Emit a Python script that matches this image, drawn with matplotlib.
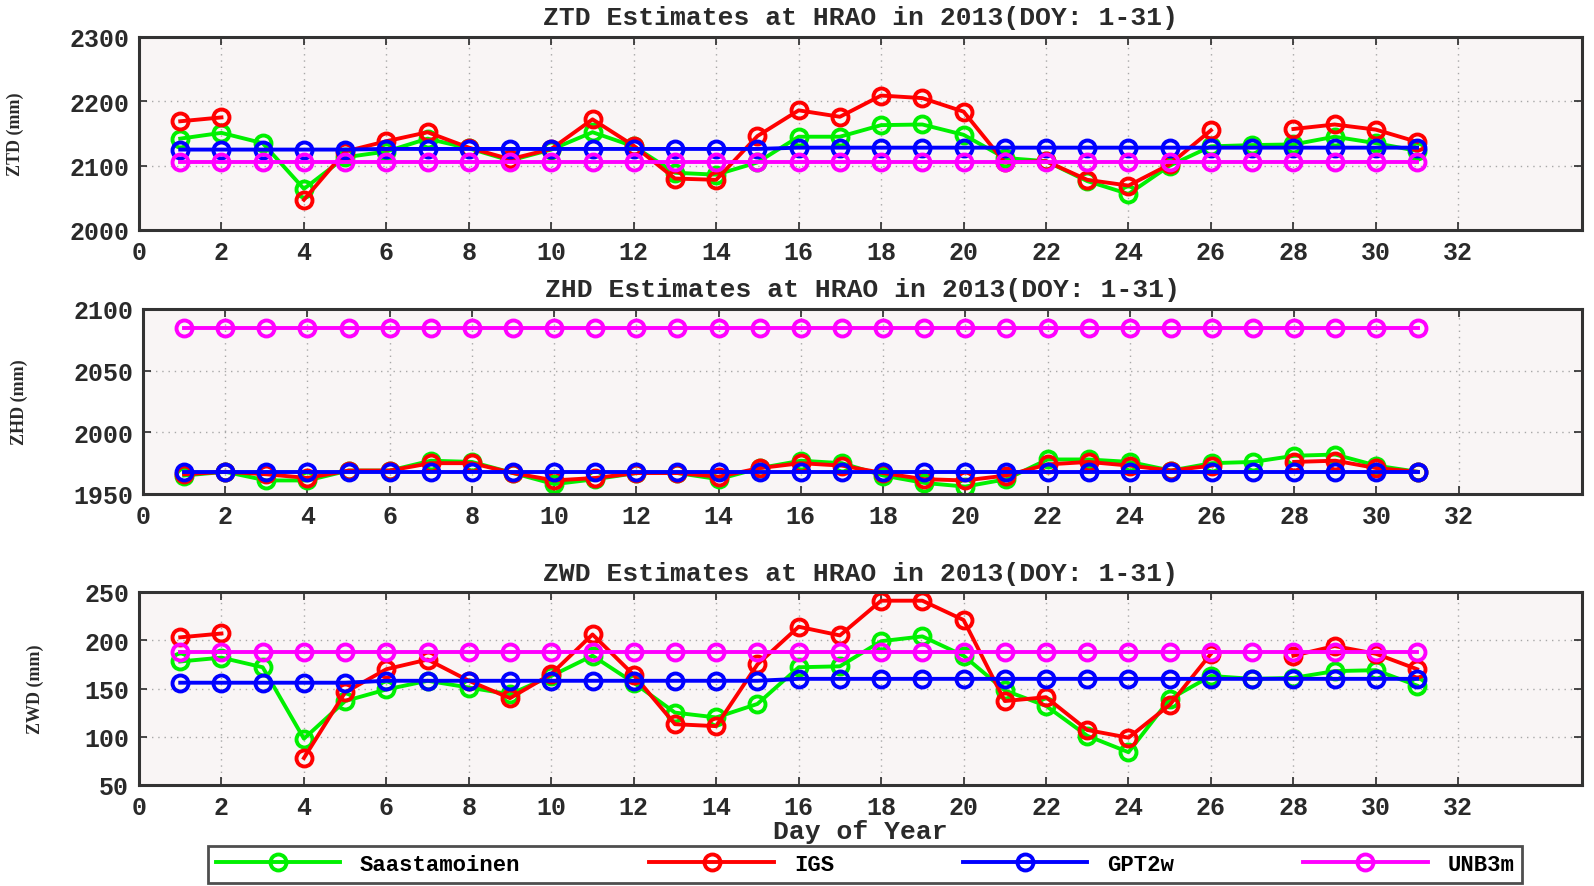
import numpy as np
import matplotlib
matplotlib.use("Agg")
import matplotlib.pyplot as plt

nan = np.nan
days = list(range(1, 32))

# ZTD (mm)
ztd_saas = [2142, 2151, 2135, 2064, 2113, 2122, 2142, 2127, 2108, 2125, 2152, 2130, 2089, 2086, 2105,
            2145, 2145, 2163, 2164, 2148, 2112, 2107, 2076, 2056, 2100, 2130, 2132, 2133, 2145, 2135, 2123]
ztd_igs = [2169, 2175, nan, 2047, 2122, 2138, 2152, 2128, 2110, 2126, 2172, 2131, 2080, 2078, 2146,
           2186, 2176, 2209, 2205, 2184, 2105, 2107, 2078, 2069, 2102, 2155, nan, 2157, 2164, 2156, 2137]
ztd_gpt = [2125] * 5 + [2126] * 10 + [2128] * 16
ztd_unb = [2106] * 31

# ZHD (mm)
zhd_saas = [1965, 1968, 1961, 1961, 1969, 1969, 1977, 1976, 1967, 1958, 1962, 1967, 1967, 1962, 1971,
            1977, 1975, 1965, 1959, 1956, 1962, 1978, 1978, 1976, 1969, 1975, 1976, 1981, 1982, 1973, 1968]
zhd_igs = [1966, 1968, 1966, 1963, 1969, 1969, 1975, 1975, 1967, 1961, 1963, 1967, 1967, 1964, 1971,
           1975, 1973, 1967, 1962, 1961, 1965, 1974, 1976, 1973, 1969, 1973, nan, 1976, 1977, 1971, 1968]
zhd_gpt = [1968] * 31
zhd_unb = [2085] * 31

# ZWD (mm)
zwd_saas = [178, 182, 172, 98, 137, 149, 158, 151, 144, 163, 184, 156, 125, 120, 134,
            172, 173, 199, 204, 184, 148, 132, 101, 84, 139, 163, 160, 161, 168, 169, 153]
zwd_igs = [203, 207, nan, 78, 146, 170, 180, 158, 140, 165, 206, 164, 113, 111, 175,
           214, 205, 241, 241, 221, 137, 141, 107, 99, 133, 186, nan, 184, 194, 186, 170]
zwd_gpt = [156] * 5 + [158] * 10 + [160] * 16
zwd_unb = [188] * 31

series_names = ["Saastamoinen", "IGS", "GPT2w", "UNB3m"]
series_colors = ["#00f000", "#ff0000", "#0000ff", "#ff00ff"]

panels = [
    ("ZTD Estimates at HRAO in 2013(DOY: 1-31)", "ZTD (mm)", (2000, 2300), [2000, 2100, 2200, 2300],
     [ztd_saas, ztd_igs, ztd_gpt, ztd_unb]),
    ("ZHD Estimates at HRAO in 2013(DOY: 1-31)", "ZHD (mm)", (1950, 2100), [1950, 2000, 2050, 2100],
     [zhd_saas, zhd_igs, zhd_gpt, zhd_unb]),
    ("ZWD Estimates at HRAO in 2013(DOY: 1-31)", "ZWD (mm)", (50, 250), [50, 100, 150, 200, 250],
     [zwd_saas, zwd_igs, zwd_gpt, zwd_unb]),
]
xticks = list(range(0, 33, 2))

W, H = 1594, 887
fig = plt.figure(figsize=(W / 100, H / 100), dpi=100)
fig.patch.set_facecolor("white")

mono = "Liberation Mono"
axes_px = [(139, 38, 1582, 231), (143, 310, 1582, 495), (139, 593, 1582, 786)]
ylab_px = [24, 28, 44]

handles = None
for (title, ylab, ylim, yt, data), (l, t, r, b), yx in zip(panels, axes_px, ylab_px):
    ax = fig.add_axes([l / W, 1 - b / H, (r - l) / W, (b - t) / H])
    ax.set_facecolor("#f9f5f5")
    hs = []
    for vals, c, name in zip(data, series_colors, series_names):
        h, = ax.plot(days, vals, color=c, lw=2.8, marker="o", ms=11.5, mfc="none",
                     mec=c, mew=2.8, label=name)
        hs.append(h)
    handles = hs
    ax.set_xlim(0, 35)
    ax.set_ylim(*ylim)
    ax.set_xticks(xticks)
    ax.set_yticks(yt)
    ax.grid(True, color="#a8a8a8", lw=1.0, ls=(0, (1, 3.5)))
    ax.tick_params(direction="in", top=True, right=True, length=6, width=1.2,
                   labelsize=18, pad=7, colors="#2a2a2a")
    for lab in ax.get_xticklabels() + ax.get_yticklabels():
        lab.set_fontfamily(mono)
        lab.set_fontweight("bold")
    for s in ax.spines.values():
        s.set_linewidth(2.2)
        s.set_color("#333333")
    ax.set_title(title, fontfamily=mono, fontweight="bold", fontsize=19, pad=9, color="#2a2a2a")
    ax.set_ylabel(ylab, fontfamily="Liberation Serif", fontweight="bold", fontsize=13,
                  color="#2a2a2a")
    ax.yaxis.set_label_coords((yx - l) / (r - l), 0.5)

ax.set_xlabel("Day of Year", fontfamily=mono, fontweight="bold", fontsize=19, labelpad=0,
              color="#2a2a2a")

leg = fig.legend(handles, series_names, loc="center", bbox_to_anchor=(865 / W, 1 - 865.5 / H),
                 ncol=4, frameon=True, fancybox=False, handlelength=5.6, columnspacing=5.8,
                 handletextpad=0.9, borderpad=0.35,
                 prop={"family": mono, "weight": "bold", "size": 16})
leg.get_frame().set_edgecolor("#222222")
leg.get_frame().set_linewidth(2.0)

fig.savefig("out.png", dpi=100, facecolor="white")
